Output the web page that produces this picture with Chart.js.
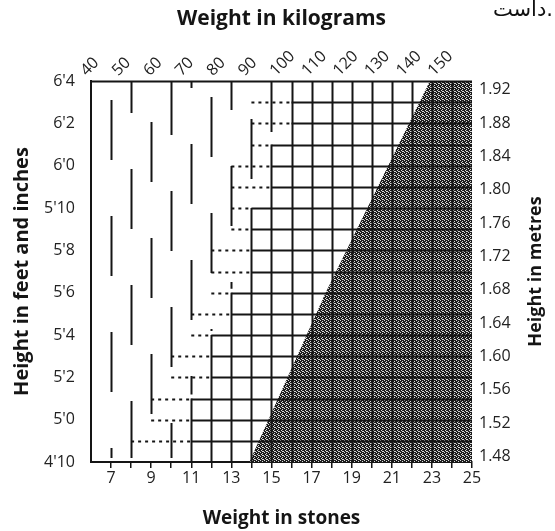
<!DOCTYPE html>
<html>
<head>
<meta charset="utf-8">
<script src="https://cdn.jsdelivr.net/npm/chart.js@4/dist/chart.umd.min.js"></script>
<style>
  html, body { margin: 0; padding: 0; background: #fff; }
  #wrap { position: relative; width: 555px; height: 531px; overflow: hidden; }
  #note { position: absolute; right: 2px; top: -3px; font: 21px "DejaVu Sans"; color: #111; direction: ltr; white-space: nowrap; }
</style>
</head>
<body>
<div id="wrap">
  <div id="note">داست.</div>
  <canvas id="bmiChart" width="555" height="531"></canvas>
</div>
<script>
// axis ticks
const stoneTicks = [7, 9, 11, 13, 15, 17, 19, 21, 23, 25];
const stoneMarks = [7, 8, 9, 10, 11, 12, 13, 14, 15, 16, 17, 18, 19, 20, 21, 22, 23, 24, 25];
const kgTicks = [40, 50, 60, 70, 80, 90, 100, 110, 120, 130, 140, 150];
const inchTicks = [58, 60, 62, 64, 66, 68, 70, 72, 74, 76];
const metreTicks = [1.48, 1.52, 1.56, 1.60, 1.64, 1.68, 1.72, 1.76, 1.80, 1.84, 1.88, 1.92];

// grid lines: one per stone, one per inch
const gridStones = [7, 8, 9, 10, 11, 12, 13, 14, 15, 16, 17, 18, 19, 20, 21, 22, 23, 24];
const gridInches = [59, 60, 61, 62, 63, 64, 65, 66, 67, 68, 69, 70, 71, 72, 73, 74, 75];

// band edges (weight in stones at a given height in inches)
const bandHeights = [58, 66, 76];
const dottedFrom = [7.6, 11.6, 14.6];   // dotted rules begin
const solidFrom = [10.5, 13.4, 16.5];   // full grid begins
// shaded (heaviest) band
const shadeHeights = [58, 66, 76, 76];
const shadeStones = [13.9, 17.7, 22.9, 25];

const STONE_KG = 6.35;
const INCH_M = 0.0254;

const ink = "#151515";
const tickFont = { family: "Open Sans", size: 16 };
const titleFont = size => ({ family: "Open Sans", size: size, weight: "bold" });

// stipple for the shaded band
function stipple() {
    const c = document.createElement("canvas");
    c.width = 4; c.height = 4;
    const g = c.getContext("2d");
    g.fillStyle = "#1c1c1c";
    g.fillRect(0, 0, 4, 4);
    g.fillStyle = "#d8d8d8";
    [[0, 0], [2, 1], [1, 2], [3, 3], [2, 3]].forEach(p => g.fillRect(p[0], p[1], 1, 1));
    return g.createPattern(c, "repeat");
}

function edgeAt(table, h) {
    for (let i = 0; i < bandHeights.length - 1; i++) {
        const h0 = bandHeights[i], h1 = bandHeights[i + 1];
        if (h <= h1 || i === bandHeights.length - 2) {
            const t = (h - h0) / (h1 - h0);
            return table[i] + t * (table[i + 1] - table[i]);
        }
    }
}

const solidStart = h => Math.round(edgeAt(solidFrom, h + 0.5));

// stepped grid
const gridPlugin = {
    id: "bmiGrid",
    afterDatasetsDraw(chart) {
        const { ctx, scales: { x, y } } = chart;
        ctx.save();
        ctx.strokeStyle = ink;
        ctx.lineWidth = 2;
        ctx.lineCap = "butt";

        // vertical rules
        gridStones.forEach(s => {
            let top = 58;
            for (let h = 58; h < 76; h++) {
                if (solidStart(h) <= s) top = h + 1;
            }
            const px = Math.round(x.getPixelForValue(s)) + 0.5;
            if (top > 58) {
                ctx.setLineDash([]);
                ctx.beginPath();
                ctx.moveTo(px, y.getPixelForValue(58));
                ctx.lineTo(px, y.getPixelForValue(top));
                ctx.stroke();
            }
            if (top < 76) {
                ctx.setLineDash([60, 56]);
                ctx.lineDashOffset = (s * 47) % 116;
                ctx.beginPath();
                ctx.moveTo(px, y.getPixelForValue(76));
                ctx.lineTo(px, y.getPixelForValue(top) - 4);
                ctx.stroke();
            }
        });

        // horizontal rules
        gridInches.forEach(h => {
            const sSolid = Math.min(solidStart(h - 1), solidStart(h));
            const sDot = Math.round(edgeAt(dottedFrom, h));
            const py = Math.round(y.getPixelForValue(h)) + 0.5;
            ctx.setLineDash([]);
            ctx.beginPath();
            ctx.moveTo(x.getPixelForValue(sSolid), py);
            ctx.lineTo(x.getPixelForValue(25), py);
            ctx.stroke();
            if (sDot < sSolid) {
                ctx.setLineDash([3, 4]);
                ctx.lineDashOffset = 0;
                ctx.beginPath();
                ctx.moveTo(x.getPixelForValue(sDot), py);
                ctx.lineTo(x.getPixelForValue(sSolid), py);
                ctx.stroke();
            }
        });

        // top rule
        ctx.setLineDash([]);
        ctx.beginPath();
        const pt = Math.round(y.getPixelForValue(76)) + 0.5;
        ctx.moveTo(x.getPixelForValue(6), pt);
        ctx.lineTo(x.getPixelForValue(25), pt);
        ctx.stroke();
        ctx.restore();
    },
    afterDraw(chart) {
        // right-hand title reads bottom to top
        const { ctx, chartArea } = chart;
        ctx.save();
        ctx.translate(chart.width - 19, (chartArea.top + chartArea.bottom) / 2);
        ctx.rotate(-Math.PI / 2);
        ctx.font = "bold 18px 'Open Sans'";
        ctx.fillStyle = ink;
        ctx.textAlign = "center";
        ctx.textBaseline = "middle";
        ctx.fillText("Height in metres", 0, 0);
        ctx.restore();
    }
};

const setTicks = list => scale => { scale.ticks = list.map(v => ({ value: v })); };

new Chart(document.getElementById("bmiChart"), {
    type: "line",
    data: {
        datasets: [{
            label: "shaded",
            data: shadeStones.map((s, i) => ({ x: s, y: shadeHeights[i] })),
            fill: "start",
            backgroundColor: stipple(),
            borderWidth: 0,
            pointRadius: 0,
            tension: 0,
            xAxisID: "x",
            yAxisID: "y"
        }]
    },
    options: {
        responsive: false,
        animation: false,
        layout: { padding: 0 },
        plugins: { legend: { display: false }, tooltip: { enabled: false } },
        scales: {
            x: {
                type: "linear", position: "bottom", min: 6, max: 25,
                afterBuildTicks: setTicks(stoneMarks),
                ticks: {
                    autoSkip: false, maxRotation: 0, padding: 1, font: tickFont, color: "#222",
                    callback: v => stoneTicks.includes(v) ? String(v) : ""
                },
                grid: { drawOnChartArea: false, drawTicks: true, tickLength: 6, color: ink, lineWidth: 1.5 },
                border: { display: true, color: ink, width: 2 },
                title: { display: true, text: "Weight in stones", font: titleFont(19), color: ink, padding: { top: 0, bottom: 1 } },
                afterFit: s => { s.height = 69; }
            },
            xkg: {
                type: "linear", position: "top", min: 6 * STONE_KG, max: 25 * STONE_KG,
                afterBuildTicks: setTicks(kgTicks),
                ticks: { autoSkip: false, minRotation: 45, maxRotation: 45, padding: 1, font: tickFont, color: "#222" },
                grid: { display: false, drawTicks: false },
                border: { display: false },
                title: { display: true, text: "Weight in kilograms", font: titleFont(21), color: ink, padding: { top: 6, bottom: 0 } },
                afterFit: s => { s.height = 81; }
            },
            y: {
                type: "linear", position: "left", min: 58, max: 76,
                afterBuildTicks: setTicks(inchTicks),
                ticks: {
                    padding: 16, font: tickFont, color: "#222",
                    callback: v => Math.floor(v / 12) + "'" + (v % 12)
                },
                grid: { drawOnChartArea: false, drawTicks: false },
                border: { display: true, color: ink, width: 2 },
                title: { display: true, text: "Height in feet and inches", font: titleFont(20), color: ink, padding: { top: 10, bottom: 0 } },
                afterFit: s => { s.width = 91; }
            },
            ym: {
                type: "linear", position: "right", min: 58 * INCH_M, max: 76 * INCH_M,
                afterBuildTicks: setTicks(metreTicks),
                ticks: { padding: 7, font: tickFont, color: "#222", callback: v => v.toFixed(2) },
                grid: { display: false, drawTicks: false },
                border: { display: false },
                afterFit: s => { s.width = 83; }
            }
        }
    },
    plugins: [gridPlugin]
});
</script>
</body>
</html>
